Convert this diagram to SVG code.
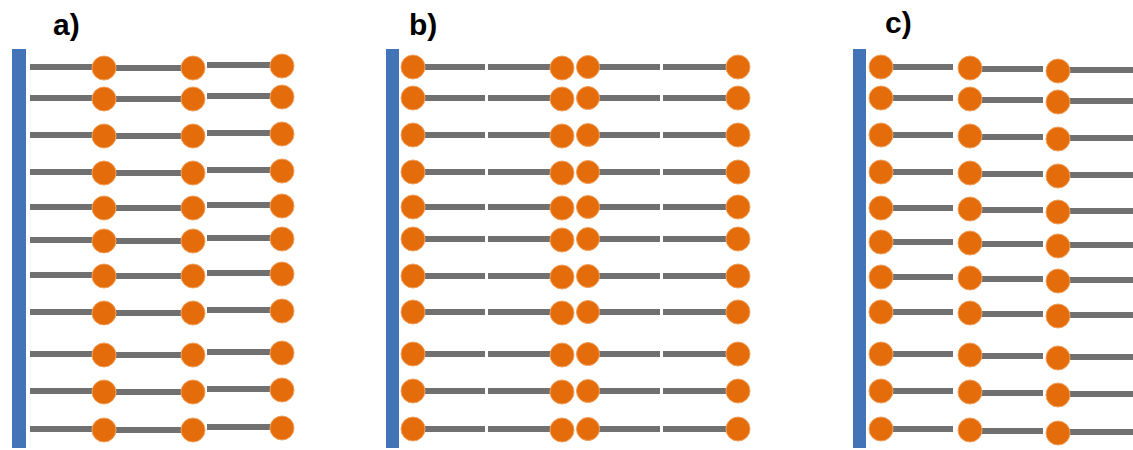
<svg xmlns="http://www.w3.org/2000/svg" xmlns:xlink="http://www.w3.org/1999/xlink" width="1133" height="450" viewBox="0 0 1133 450">
<style>
.bar{fill:#4374B7}
.tail{stroke:#707070;stroke-width:6;stroke-linecap:butt}
.head{fill:#E46C0A;stroke:#F2A15E;stroke-width:1}
.lbl{font-family:"Liberation Sans",Arial,sans-serif;font-weight:bold;font-size:30px;fill:#000}
</style>
<defs>
<g id="rowA">
<line class="tail" x1="30" y1="0" x2="100" y2="0"/>
<line class="tail" x1="116" y1="1" x2="190" y2="1"/>
<line class="tail" x1="207" y1="-2" x2="280" y2="-2"/>
<circle class="head" cx="104" cy="1" r="12"/>
<circle class="head" cx="193" cy="1" r="12"/>
<circle class="head" cx="282" cy="-1" r="12"/>
</g>
<g id="rowB">
<line class="tail" x1="413" y1="0" x2="485" y2="0"/>
<line class="tail" x1="488" y1="0" x2="556" y2="0"/>
<line class="tail" x1="588" y1="0" x2="660" y2="0"/>
<line class="tail" x1="663" y1="0" x2="736" y2="0"/>
<circle class="head" cx="413" cy="0" r="12"/>
<circle class="head" cx="562" cy="1" r="12"/>
<circle class="head" cx="588" cy="0" r="11.5"/>
<circle class="head" cx="738" cy="0" r="12"/>
</g>
<g id="rowC">
<line class="tail" x1="881" y1="0" x2="953" y2="0"/>
<line class="tail" x1="970" y1="2" x2="1043" y2="2"/>
<line class="tail" x1="1058" y1="3" x2="1133" y2="3"/>
<circle class="head" cx="881" cy="0" r="12"/>
<circle class="head" cx="970" cy="1" r="12"/>
<circle class="head" cx="1058" cy="4" r="12"/>
</g>
</defs>
<rect width="1133" height="450" fill="#fff"/>
<g id="panel-a">
<text class="lbl" x="53" y="35">a)</text>
<rect class="bar" x="12" y="49" width="14" height="399"/>
<use xlink:href="#rowA" href="#rowA" y="67"/>
<use xlink:href="#rowA" href="#rowA" y="98"/>
<use xlink:href="#rowA" href="#rowA" y="135"/>
<use xlink:href="#rowA" href="#rowA" y="172"/>
<use xlink:href="#rowA" href="#rowA" y="207"/>
<use xlink:href="#rowA" href="#rowA" y="240"/>
<use xlink:href="#rowA" href="#rowA" y="275"/>
<use xlink:href="#rowA" href="#rowA" y="312"/>
<use xlink:href="#rowA" href="#rowA" y="354"/>
<use xlink:href="#rowA" href="#rowA" y="391"/>
<use xlink:href="#rowA" href="#rowA" y="429"/>
</g>
<g id="panel-b">
<text class="lbl" x="409" y="35">b)</text>
<rect class="bar" x="386" y="49" width="13" height="399"/>
<use xlink:href="#rowB" href="#rowB" y="67"/>
<use xlink:href="#rowB" href="#rowB" y="98"/>
<use xlink:href="#rowB" href="#rowB" y="135"/>
<use xlink:href="#rowB" href="#rowB" y="172"/>
<use xlink:href="#rowB" href="#rowB" y="207"/>
<use xlink:href="#rowB" href="#rowB" y="239"/>
<use xlink:href="#rowB" href="#rowB" y="276"/>
<use xlink:href="#rowB" href="#rowB" y="312"/>
<use xlink:href="#rowB" href="#rowB" y="354"/>
<use xlink:href="#rowB" href="#rowB" y="391"/>
<use xlink:href="#rowB" href="#rowB" y="429"/>
</g>
<g id="panel-c">
<text class="lbl" x="885" y="33">c)</text>
<rect class="bar" x="853" y="49" width="13" height="399"/>
<use xlink:href="#rowC" href="#rowC" y="67"/>
<use xlink:href="#rowC" href="#rowC" y="98"/>
<use xlink:href="#rowC" href="#rowC" y="135"/>
<use xlink:href="#rowC" href="#rowC" y="172"/>
<use xlink:href="#rowC" href="#rowC" y="208"/>
<use xlink:href="#rowC" href="#rowC" y="242"/>
<use xlink:href="#rowC" href="#rowC" y="277"/>
<use xlink:href="#rowC" href="#rowC" y="312"/>
<use xlink:href="#rowC" href="#rowC" y="354"/>
<use xlink:href="#rowC" href="#rowC" y="391"/>
<use xlink:href="#rowC" href="#rowC" y="429"/>
</g>
</svg>
